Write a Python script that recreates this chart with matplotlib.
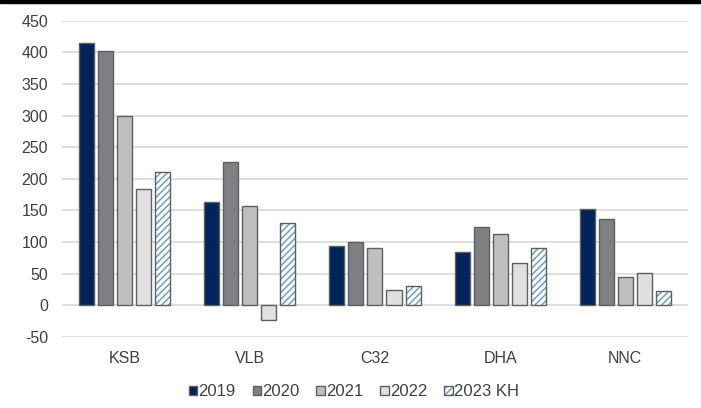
import matplotlib
matplotlib.use("Agg")
import matplotlib.pyplot as plt
from matplotlib.patches import Rectangle
import numpy as np

plt.rcParams['font.family'] = ['Liberation Sans', 'DejaVu Sans']
plt.rcParams['hatch.linewidth'] = 1.2
plt.rcParams['axes.unicode_minus'] = False

# data
companies = ["KSB", "VLB", "C32", "DHA", "NNC"]
years = ["2019", "2020", "2021", "2022", "2023 KH"]
v2019 = [415, 164, 93, 84, 152]
v2020 = [403, 226, 100, 123, 137]
v2021 = [300, 157, 91, 113, 44]
v2022 = [184, -23, 24, 66, 51]
v2023 = [211, 130, 31, 91, 22]
yticks = [-50, 0, 50, 100, 150, 200, 250, 300, 350, 400, 450]

series = [v2019, v2020, v2021, v2022, v2023]
fills = ["#00245a", "#7f8083", "#bfbfbf", "#e0e0e0", "white"]
edge = "#5f5f5f"
hatch_col = "#7aa6be"

fig = plt.figure(figsize=(7.01, 4.08), dpi=100)
ax = fig.add_axes([0.0884, 0.1747, 0.893, 0.7743])

x = np.arange(len(companies))
step = 0.152
width = 0.12
handles = []
for i, vals in enumerate(series):
    pos = x + (i - 2) * step
    if i == 4:
        # hatched fill first, grey outline on top
        hb = ax.bar(pos, vals, width, color="white", edgecolor=hatch_col,
                    hatch="/////", linewidth=0, zorder=3)
        ob = ax.bar(pos, vals, width, fill=False, edgecolor=edge,
                    linewidth=1, zorder=4)
        handles.append((hb[0], ob[0]))
    else:
        b = ax.bar(pos, vals, width, color=fills[i], edgecolor=edge,
                   linewidth=1, zorder=3)
        handles.append(b[0])

ax.set_ylim(-50, 450)
ax.set_xlim(-0.5, len(companies) - 0.5)
ax.set_yticks(yticks)
ax.set_xticks(x)
ax.set_xticklabels(companies)
ax.yaxis.grid(True, color="#d9d9d9", linewidth=1.2, zorder=0)
ax.set_axisbelow(True)
for s in ax.spines.values():
    s.set_visible(False)
ax.tick_params(axis="both", length=0, labelsize=11.5, colors="#404040")
ax.tick_params(axis="x", pad=10)
ax.tick_params(axis="y", pad=10)

fig.legend(handles, years, loc="center", bbox_to_anchor=(0.505, 0.04),
           ncol=5, frameon=False, fontsize=12, handlelength=0.5,
           handleheight=0.5, handletextpad=0.1, columnspacing=1.0,
           labelcolor="#404040")

# black strip along the top edge
fig.patches.append(Rectangle((0, 1 - 3 / 408), 1, 3 / 408, transform=fig.transFigure,
                             color="black", zorder=10))

fig.savefig("out.png", dpi=100)
